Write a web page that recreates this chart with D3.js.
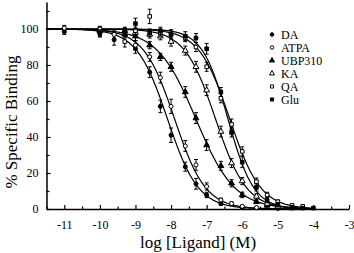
<!DOCTYPE html>
<html>
<meta charset="utf-8">
<script src="https://d3js.org/d3.v7.min.js"></script>
<style>
  body { margin: 0; background: #fff; }
  text { font-family: "Liberation Serif", "DejaVu Serif", serif; fill: #000; }
</style>
<body>
<div id="chart"></div>
<script>

// series names, in legend order
var names = ["DA", "ATPA", "UBP310", "KA", "QA", "Glu"];

// log concentrations (M) per series
var xDA     = [-11, -10, -9.6, -9, -8.6, -8.3, -8, -7.6, -7.3, -7, -6.6, -6, -5];
var xATPA   = [-11, -10, -9.6, -9, -8.6, -8.3, -8, -7.6, -7.3, -7, -6.6, -6.3, -6, -5.6];
var xUBP310 = [-10, -9.3, -9, -8.6, -8.3, -8, -7.6, -7.3, -7, -6.6, -6.3, -6, -5.6, -5.3, -5, -4.6];
var xKA     = [-10, -9.3, -9, -8.6, -8.3, -8, -7.6, -7.3, -7, -6.6, -6.3, -6, -5.6, -5.3, -5, -4.6];
var xQA     = [-10, -9.3, -9, -8.6, -8.3, -8, -7.6, -7.3, -7, -6.6, -6.3, -6, -5.6, -5.3, -5, -4.6, -4.3];
var xGlu    = [-10, -9.3, -9, -8.6, -8.3, -8, -7.6, -7.3, -7, -6.6, -6.3, -6, -5.6, -5.3, -5, -4.6, -4.3, -4];

// % specific binding
var yDA     = [98.5, 98, 94, 89, 76, 57, 41, 23.5, 14, 7.8, 3, 0.8, 0.3];
var yATPA   = [100.5, 99, 97, 91, 84.5, 73, 57, 35, 24.5, 12.5, 5, 3, 1.5, 0.8];
var yUBP310 = [99, 97, 96, 91, 84.5, 79, 65, 50.5, 35.5, 24, 14.3, 7.8, 4, 2, 1, 0.5];
var yKA     = [99.5, 99, 98, 97, 96, 93, 88, 79, 66, 43, 25.5, 15.5, 7, 3, 1.5, 0.8];
var yQA     = [100, 93, 99, 107, 98, 97, 95, 90, 79, 61.5, 47, 32, 15.2, 7.8, 4, 2, 1.5];
var yGlu    = [97.5, 99, 103, 98, 99, 97, 96, 95, 89, 65, 42.5, 26, 12, 5, 2.5, 1, 0.5, 0.5];

// error bar half-heights
var eDA     = [1.5, 2, 3, 2.5, 3, 3.5, 4, 2.5, 3, 1.5, 1, 0.5, 0.5];
var eATPA   = [1.5, 1.5, 2, 2.5, 2.5, 3, 4, 3, 3, 2, 1, 1, 0.5, 0.5];
var eUBP310 = [2, 2, 2.5, 2, 2, 2.5, 3, 3, 3, 2.5, 2, 1.5, 1, 1, 0.5, 0.5];
var eKA     = [1.5, 1.5, 2, 2, 2, 2.5, 2.5, 3, 3, 3, 2.5, 2, 1.5, 1, 0.5, 0.5];
var eQA     = [1.5, 3, 2, 4, 2, 2.5, 2, 2.5, 2.5, 2.5, 3, 2.5, 2, 1.5, 1, 0.5, 0.5];
var eGlu    = [2, 2, 3, 2, 2, 2.5, 2.5, 2.5, 3, 2.5, 2.5, 3, 2, 1.5, 1, 0.5, 0.5, 0.5];

// fitted curves: log IC50 and Hill slope
var logIC50 = [-8.1, -7.9, -7.3, -6.75, -6.35, -6.4];
var hill    = [1.0, 1.0, 0.8, 1.0, 1.0, 1.2];

// axis ticks
var xMajor = [-11, -10, -9, -8, -7, -6, -5, -4, -3];
var xMinor = [-11.5, -10.5, -9.5, -8.5, -7.5, -6.5, -5.5, -4.5, -3.5];
var yMajor = [0, 20, 40, 60, 80, 100];
var yMinor = [10, 30, 50, 70, 90, 110];

var xs = [xDA, xATPA, xUBP310, xKA, xQA, xGlu];
var ys = [yDA, yATPA, yUBP310, yKA, yQA, yGlu];
var es = [eDA, eATPA, eUBP310, eKA, eQA, eGlu];
var shapes = [d3.symbolCircle, d3.symbolCircle, d3.symbolTriangle, d3.symbolTriangle, d3.symbolSquare, d3.symbolSquare];
var filled = [true, false, true, false, false, true];
var sizes = [13, 13, 15, 15, 13, 13];

var width = 354, height = 253;

var svg = d3.select("#chart")
  .append("svg")
    .attr("width", width)
    .attr("height", height);

svg.append("rect").attr("width", width).attr("height", height).attr("fill", "#fff");

var x = d3.scaleLinear().domain([-11.5, -3]).range([46.5, 349]);
var y = d3.scaleLinear().domain([0, 115]).range([209, 2]);

// axes
var gx = svg.append("g").attr("transform", "translate(0,209)");
gx.call(d3.axisBottom(x).tickValues(xMajor).tickSizeInner(-4).tickSizeOuter(0)
  .tickPadding(11).tickFormat(function(d) { return String(d); }));
gx.append("g").call(d3.axisBottom(x).tickValues(xMinor).tickSizeInner(-2.5).tickSizeOuter(0)
  .tickFormat(""))
  .select(".domain").remove();

var gy = svg.append("g").attr("transform", "translate(46.5,0)");
gy.call(d3.axisLeft(y).tickValues(yMajor).tickSizeInner(-4).tickSizeOuter(0)
  .tickPadding(8));
gy.append("g").call(d3.axisLeft(y).tickValues(yMinor).tickSizeInner(-3).tickSizeOuter(0)
  .tickFormat(""))
  .select(".domain").remove();

svg.selectAll(".domain").attr("stroke", "#000").attr("stroke-width", 1.5);
svg.selectAll(".tick line").attr("stroke", "#000").attr("stroke-width", 1.2);
svg.selectAll(".tick text")
  .style("font-family", "'Liberation Serif', serif")
  .style("font-size", "12px")
  .attr("fill", "#000");

// fitted curves
var line = d3.line()
  .x(function(d) { return x(d[0]); })
  .y(function(d) { return y(d[1]); });

var curveX = d3.range(-11.5, -3.99, 0.02);
names.forEach(function(n, i) {
  var pts = curveX.map(function(v) {
    return [v, 100 / (1 + Math.pow(10, (v - logIC50[i]) * hill[i]))];
  });
  svg.append("path")
    .datum(pts)
    .attr("d", line)
    .attr("fill", "none")
    .attr("stroke", "#000")
    .attr("stroke-width", 1.2);
});

// error bars and markers
names.forEach(function(n, i) {
  var data = xs[i].map(function(v, j) { return { x: v, y: ys[i][j], e: es[i][j] }; });
  var g = svg.append("g");
  g.selectAll("path.err")
    .data(data)
    .enter()
    .append("path")
      .attr("class", "err")
      .attr("d", function(d) {
        var x0 = x(d.x), y1 = y(d.y + d.e), y2 = y(d.y - d.e);
        return "M" + (x0 - 2) + "," + y1 + "H" + (x0 + 2) +
               "M" + x0 + "," + y1 + "V" + y2 +
               "M" + (x0 - 2) + "," + y2 + "H" + (x0 + 2);
      })
      .attr("stroke", "#000")
      .attr("stroke-width", 1)
      .attr("fill", "none");
  g.selectAll("path.mark")
    .data(data)
    .enter()
    .append("path")
      .attr("class", "mark")
      .attr("transform", function(d) { return "translate(" + x(d.x) + "," + y(d.y) + ")"; })
      .attr("d", d3.symbol().type(shapes[i]).size(sizes[i]))
      .attr("fill", filled[i] ? "#000" : "#fff")
      .attr("stroke", "#000")
      .attr("stroke-width", 1);
});

// legend
var leg = svg.append("g");
names.forEach(function(n, i) {
  var ly = 34.5 + i * 13;
  leg.append("path")
    .attr("transform", "translate(272," + ly + ")")
    .attr("d", d3.symbol().type(shapes[i]).size(sizes[i] * 0.75))
    .attr("fill", filled[i] ? "#000" : "#fff")
    .attr("stroke", "#000")
    .attr("stroke-width", 1);
  leg.append("text")
    .attr("x", 281)
    .attr("y", ly + 4.2)
    .style("font-size", "12px")
    .text(n);
});

// axis titles
svg.append("text")
  .attr("x", 198)
  .attr("y", 248)
  .attr("text-anchor", "middle")
  .style("font-size", "17px")
  .text("log [Ligand] (M)");

svg.append("text")
  .attr("transform", "translate(17,122) rotate(-90)")
  .attr("text-anchor", "middle")
  .style("font-size", "17px")
  .text("% Specific Binding");

</script>
</body>
</html>
